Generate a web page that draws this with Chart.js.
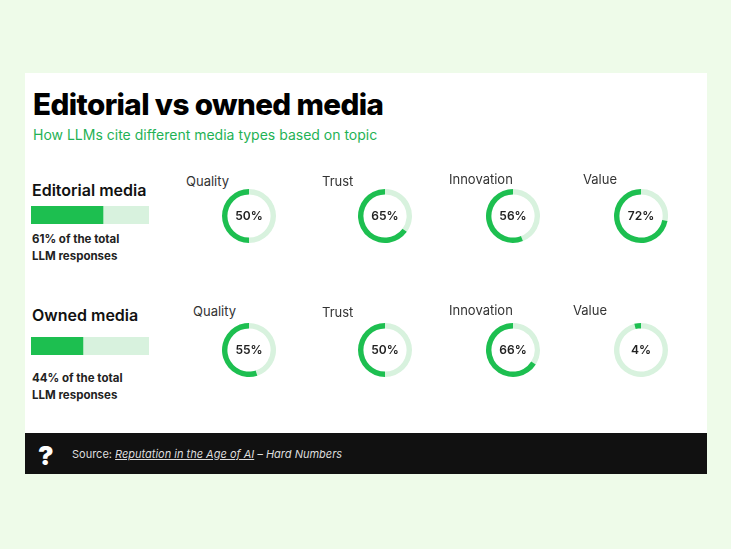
<!DOCTYPE html><html><head><meta charset="utf-8">
<script src="https://cdn.jsdelivr.net/npm/chart.js@4"></script>
<style>
body{margin:0;width:731px;height:549px;background:#eefbe9;font-family:Inter,"Noto Sans",sans-serif;position:relative;overflow:hidden}
#card{position:absolute;left:25px;top:73px;width:682px;height:401px;background:#fff}
.a{position:absolute;white-space:nowrap}
.d{position:absolute;width:56px;height:56px}
.d canvas{position:absolute;left:0;top:0}
.c{position:absolute;left:0;top:0;width:56px;height:56px;line-height:56px;text-align:center;font-size:12px;font-weight:600;color:#222}
.lab{font-size:13px;color:#333}
#foot{position:absolute;left:25px;top:433px;width:682px;height:41px;background:#111}
</style></head><body>
<div id="card"></div>
<div class="a" style="left:33px;top:86px;font-size:29.6px;font-weight:800;color:#000;letter-spacing:-0.6px">Editorial vs owned media</div>
<div class="a" style="left:33px;top:126px;font-size:14px;color:#1fb255">How LLMs cite different media types based on topic</div>
<div class="a" style="left:32px;top:180px;font-size:16px;font-weight:600;color:#111">Editorial media</div>
<div class="a" style="left:32px;top:305px;font-size:16px;font-weight:600;color:#111">Owned media</div>
<div class="a" style="left:32px;top:231px;font-size:11.5px;font-weight:700;color:#222;line-height:17px">61% of the total<br>LLM responses</div>
<div class="a" style="left:32px;top:370px;font-size:11.5px;font-weight:700;color:#222;line-height:17px">44% of the total<br>LLM responses</div>
<div class="a" style="left:31px;top:206px;width:118px;height:18px"><canvas id="b0"></canvas></div>
<div class="a" style="left:31px;top:337px;width:118px;height:18px"><canvas id="b1"></canvas></div>
<div id="foot"></div>
<div class="a" style="left:38px;top:440px;font-size:26px;font-weight:900;color:#fff">?</div>
<div class="a" style="left:72px;top:447px;font-size:11px;color:#ddd">Source: <span style="text-decoration:underline;font-style:italic">Reputation in the Age of AI</span> <i>– Hard Numbers</i></div>
<div id="donuts"></div>
<script>
const topics=["Quality","Trust","Innovation","Value"];
const editorialValues=[50,65,56,72];
const ownedValues=[55,50,66,4];
const shareLabels=["Editorial media","Owned media"];
const shareValues=[61,44];
const green="#1dbf50", light="#d8f2de";
const cx=[249,385,513,641], cy=[216,350];
const labPos=[[[186,173],[322,173],[449,171],[583,171]],[[193,303],[322,304],[449,302],[573,302]]];
const rows=[editorialValues,ownedValues];
const host=document.getElementById('donuts');
rows.forEach((vals,r)=>vals.forEach((v,i)=>{
  const l=document.createElement('div');l.className='a lab';l.style.left=labPos[r][i][0]+'px';l.style.top=labPos[r][i][1]+'px';l.textContent=topics[i];host.appendChild(l);
  const d=document.createElement('div');d.className='d';d.style.left=(cx[i]-28)+'px';d.style.top=(cy[r]-28)+'px';
  const cv=document.createElement('canvas');cv.width=56;cv.height=56;d.appendChild(cv);
  const t=document.createElement('div');t.className='c';t.textContent=v+'%';d.appendChild(t);host.appendChild(d);
  new Chart(cv,{type:'doughnut',data:{labels:['rest','v'],datasets:[{data:[100-v,v],backgroundColor:[light,green],borderWidth:0}]},
    options:{responsive:false,animation:false,cutout:'80%',layout:{padding:1},plugins:{legend:{display:false},tooltip:{enabled:false}}}});
}));
shareValues.forEach((v,k)=>{
  new Chart(document.getElementById('b'+k),{type:'bar',data:{labels:[shareLabels[k]],datasets:[
    {data:[v],backgroundColor:green,stack:'s',barPercentage:1,categoryPercentage:1},
    {data:[100-v],backgroundColor:light,stack:'s',barPercentage:1,categoryPercentage:1}]},
    options:{indexAxis:'y',responsive:true,maintainAspectRatio:false,animation:false,
      scales:{x:{display:false,stacked:true,min:0,max:100},y:{display:false,stacked:true}},
      plugins:{legend:{display:false},tooltip:{enabled:false}}}});
});
</script></body></html>
